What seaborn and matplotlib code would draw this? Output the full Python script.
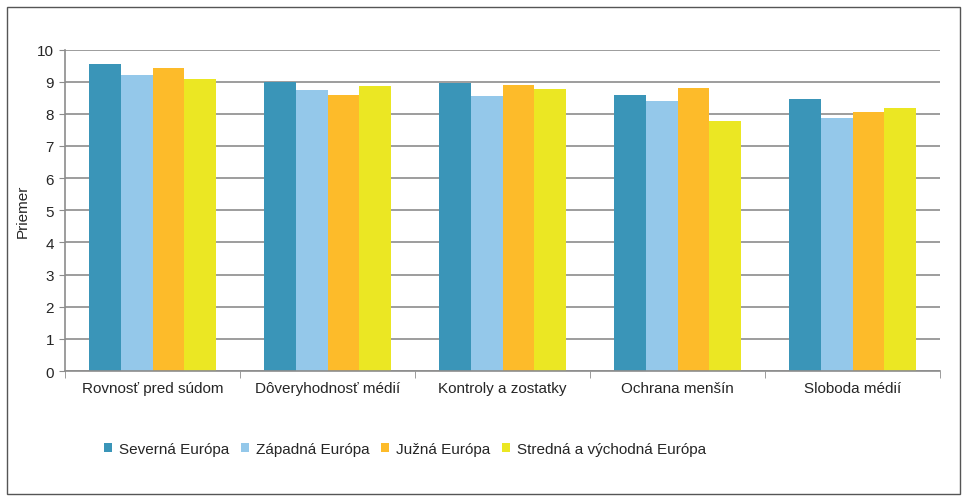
import pandas as pd
import seaborn as sns
import matplotlib.pyplot as plt
from matplotlib.patches import Rectangle

categories = ["Rovnosť pred súdom", "Dôveryhodnosť médií", "Kontroly a zostatky",
              "Ochrana menšín", "Sloboda médií"]
regions = ["Severná Európa", "Západná Európa", "Južná Európa", "Stredná a východná Európa"]
severna = [9.55, 8.98, 8.97, 8.58, 8.45]
zapadna = [9.21, 8.75, 8.54, 8.40, 7.86]
juzna = [9.43, 8.60, 8.89, 8.80, 8.07]
stredna = [9.07, 8.86, 8.77, 7.78, 8.18]
colors = ["#3A95B8", "#94C8EA", "#FDBB2A", "#EBE723"]

rows = []
for reg, vals in zip(regions, [severna, zapadna, juzna, stredna]):
    for cat, v in zip(categories, vals):
        rows.append({"kategoria": cat, "region": reg, "priemer": v})
df = pd.DataFrame(rows)

sns.set_style("white")
plt.rcParams["font.family"] = ["Liberation Sans", "DejaVu Sans"]

fig = plt.figure(figsize=(9.68, 5.02), dpi=100)
ax = fig.add_axes([65 / 968, 1 - 372 / 502, 875 / 968, 321.5 / 502])

sns.barplot(data=df, x="kategoria", y="priemer", hue="region", palette=colors,
            width=0.725, gap=0, saturation=1, ax=ax, errorbar=None, legend=True,
            linewidth=0, edgecolor="none")

ax.set_ylim(0, 10)
ax.set_xlim(-0.5, 4.5)
ax.set_yticks(range(0, 11))
ax.yaxis.grid(True, color="#8c8c8c", linewidth=1.2)
ax.set_axisbelow(True)
for s in ["top", "right"]:
    ax.spines[s].set_visible(False)
for s in ["left", "bottom"]:
    ax.spines[s].set_color("#8c8c8c")
    ax.spines[s].set_linewidth(1.2)
ax.tick_params(axis="y", left=True, length=4, color="#8c8c8c", labelsize=11, pad=4)
ax.tick_params(axis="x", bottom=False, labelsize=11, pad=4)
ax.set_xticks([i - 0.5 for i in range(6)], minor=True)
ax.tick_params(axis="x", which="minor", bottom=True, length=5, color="#8c8c8c")
ax.set_xlabel("")
ax.set_ylabel("Priemer", fontsize=11, labelpad=5)

ax.legend(loc="center", bbox_to_anchor=(405 / 968, 1 - 450 / 502),
          bbox_transform=fig.transFigure, ncol=4, frameon=False, fontsize=11,
          handlelength=0.55, handleheight=0.55, handletextpad=0.45, columnspacing=0.75)

fig.patches.append(Rectangle((7 / 968, 7 / 502), 953 / 968, 487 / 502, transform=fig.transFigure,
                             fill=False, edgecolor="#555555", linewidth=1))

fig.savefig("out.png", dpi=100)
